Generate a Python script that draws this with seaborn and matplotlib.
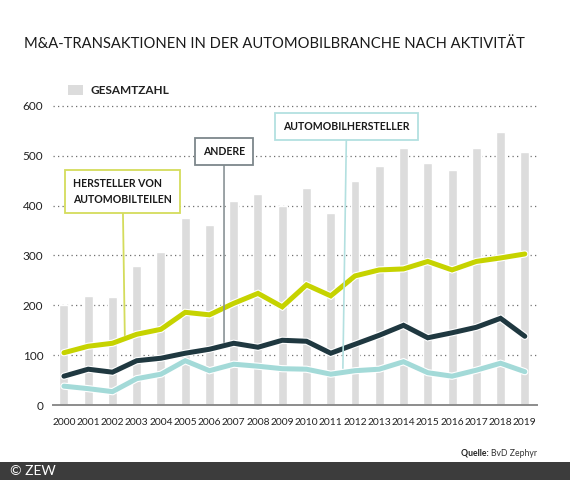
import numpy as np
import pandas as pd
import matplotlib
matplotlib.use("Agg")
import matplotlib.pyplot as plt
import matplotlib.patheffects as pe
from matplotlib.patches import Patch, Rectangle
import seaborn as sns

# data
years = [str(y) for y in range(2000, 2020)]
gesamt = [200, 219, 217, 279, 307, 375, 361, 410, 424, 399,
          436, 386, 450, 480, 516, 486, 472, 516, 548, 508]
teile = [105, 118, 124, 142, 152, 186, 181, 204, 224, 197,
         241, 219, 259, 271, 273, 288, 271, 288, 295, 303]
andere = [58, 72, 66, 89, 94, 104, 112, 124, 116, 130,
          128, 104, 122, 140, 160, 135, 145, 156, 174, 138]
hersteller = [38, 33, 27, 53, 62, 89, 69, 82, 78, 73,
              72, 62, 69, 72, 87, 65, 58, 70, 84, 67]

green = "#c6d300"
dark = "#1f3840"
teal = "#a3dad8"
bar_grey = "#dcdcdc"

sns.set_theme(style="white")
plt.rcParams['font.family'] = ['Lato', 'DejaVu Sans']

df = pd.DataFrame({'year': years, 'pos': np.arange(len(years)),
                   'gesamt': gesamt, 'teile': teile,
                   'andere': andere, 'hersteller': hersteller})

fig = plt.figure(figsize=(5.7, 4.8), dpi=100)
ax = fig.add_axes([0.093, 0.156, 0.849, 0.634])

sns.barplot(data=df, x='year', y='gesamt', color=bar_grey, saturation=1,
            width=0.37, ax=ax, label='GESAMTZAHL', zorder=1)

halo = [pe.Stroke(linewidth=5.2, foreground='white'), pe.Normal()]
for col, c in [('hersteller', teal), ('andere', dark), ('teile', green)]:
    sns.lineplot(data=df, x='pos', y=col, color=c, linewidth=3.6, ax=ax,
                 zorder=3, path_effects=halo, solid_joinstyle='miter')

ax.set_xlim(-0.45, 19.5)
ax.set_ylim(0, 610)
ax.set_yticks([0, 100, 200, 300, 400, 500, 600])
ax.set_xticks(range(len(years)))
ax.set_xticklabels(years)
ax.set_xlabel('')
ax.set_ylabel('')
ax.set_axisbelow(True)
ax.grid(False)
for v in [100, 200, 300, 400, 500, 600]:
    ax.axhline(v, color='#6f6f6f', lw=0.9, ls=(0, (1, 2.6)), zorder=0.5)
for s in ['top', 'right', 'left']:
    ax.spines[s].set_visible(False)
ax.spines['bottom'].set_color('#8c8c8c')
ax.spines['bottom'].set_linewidth(1.4)
ax.spines['bottom'].set_zorder(4)
ax.tick_params(axis='y', length=0, pad=7, labelsize=8.5, labelcolor='#222222')
ax.tick_params(axis='x', length=0, pad=9, labelsize=7.4, labelcolor='#222222')

# legend for the bars
leg = ax.legend(handles=[Patch(facecolor=bar_grey, edgecolor='none', label='GESAMTZAHL')],
                loc='center left', bbox_to_anchor=(0.1, 0.812), bbox_transform=fig.transFigure,
                frameon=False, handlelength=1.3, handleheight=0.9, handletextpad=0.6,
                prop={'weight': 'bold', 'size': 8.5})
for t in leg.get_texts():
    t.set_color('#222222')

# labelled boxes with leader lines
box_kw = dict(ha='center', va='center', fontsize=7.6, fontweight='bold', color='#1a1a1a',
              zorder=5, multialignment='left')
ax.annotate('HERSTELLER VON\nAUTOMOBILTEILEN', xy=(2.51, 140), xytext=(2.42, 428),
            bbox=dict(boxstyle='square,pad=0.75', fc='white', ec='#d4dc5c', lw=1.3),
            arrowprops=dict(arrowstyle='-', color='#d4dc5c', lw=1.3, shrinkA=0, shrinkB=0),
            linespacing=1.5, **box_kw)
ax.annotate('ANDERE', xy=(6.6, 126), xytext=(6.6, 509),
            bbox=dict(boxstyle='square,pad=0.75', fc='white', ec='#7d878b', lw=1.3),
            arrowprops=dict(arrowstyle='-', color='#8a9396', lw=1.2, shrinkA=0, shrinkB=0),
            **box_kw)
ax.annotate('AUTOMOBILHERSTELLER', xy=(11.5, 74), xytext=(11.65, 558),
            bbox=dict(boxstyle='square,pad=0.75', fc='white', ec='#b3e0e0', lw=1.3),
            arrowprops=dict(arrowstyle='-', color='#b3e0e0', lw=1.2, shrinkA=0, shrinkB=0),
            **box_kw)

# title, source and footer
fig.text(0.042, 0.908, 'M&A-TRANSAKTIONEN IN DER AUTOMOBILBRANCHE NACH AKTIVITÄT',
         fontsize=10.6, color='#1a1a1a', va='center', ha='left')
src = fig.text(0.942, 0.056, 'BvD Zephyr', fontsize=6.2, color='#333333',
               ha='right', va='center')
ax.annotate('Quelle: ', xy=(0, 0.5), xycoords=src, fontsize=6.2, fontweight='bold',
            color='#222222', ha='right', va='center', annotation_clip=False)
fig.add_artist(Rectangle((0, 0), 1, 0.0375, transform=fig.transFigure,
                         facecolor='#3c3c3c', edgecolor='none'))
fig.text(0.018, 0.019, '© ZEW', fontsize=10, color='white', ha='left', va='center')

fig.savefig('out.png', dpi=100)
